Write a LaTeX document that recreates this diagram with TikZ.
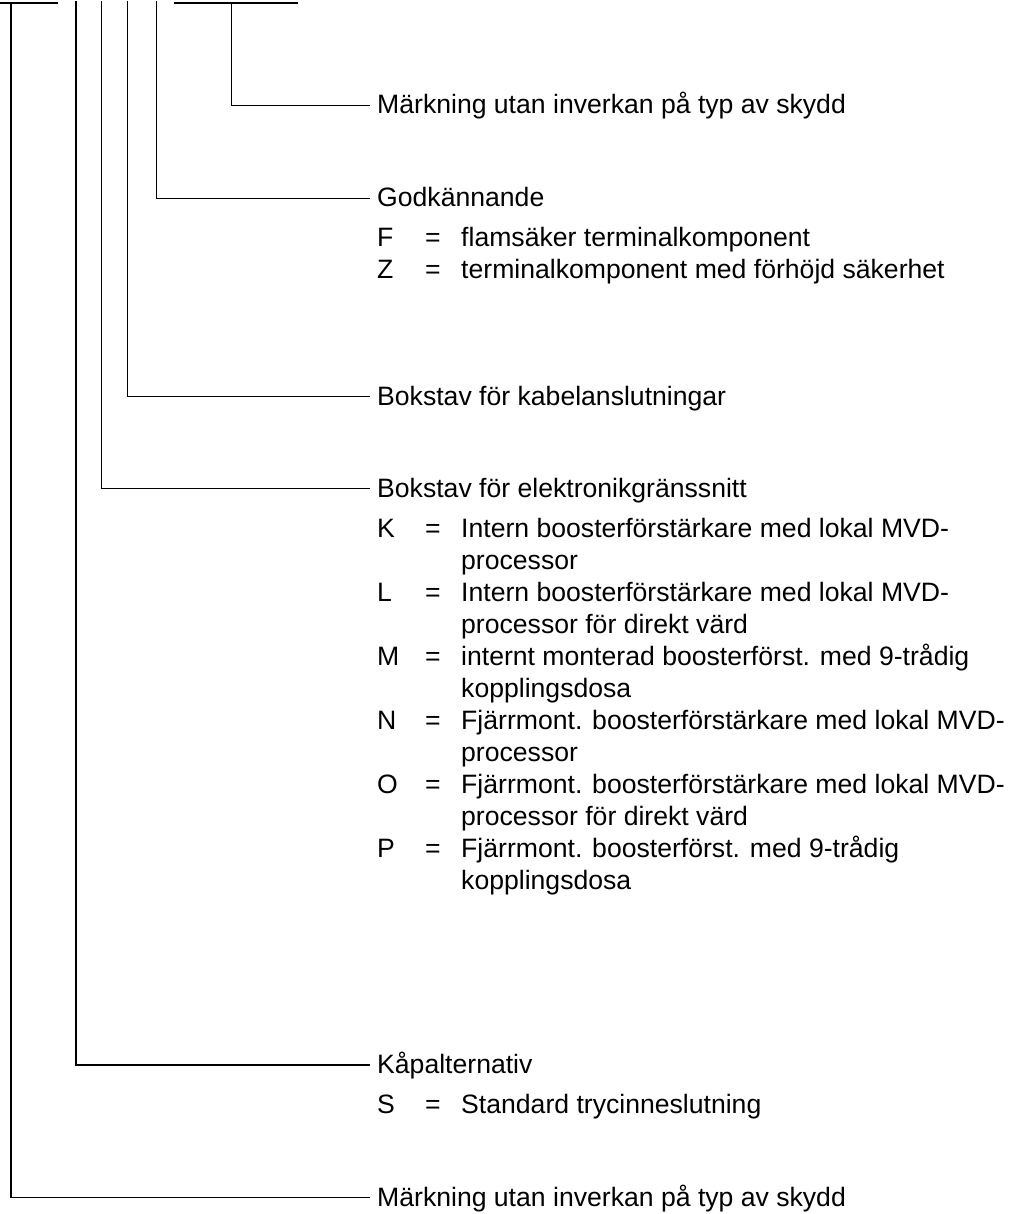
\documentclass[tikz,border=0pt]{standalone}
\usepackage{fontspec}
\setmainfont{Liberation Sans}
\begin{document}
\begin{tikzpicture}[x=1pt,y=-1pt,
  txt/.style={anchor=base west, inner sep=0pt, font=\fontsize{26.6pt}{32pt}\selectfont},
  wire/.style={line width=1.5pt, line cap=butt}]
\useasboundingbox (0,0) rectangle (1016,1214);
% top bars
\coordinate (barL0) at (0,3); \coordinate (barL1) at (58,3);
\coordinate (barR0) at (174,3); \coordinate (barR1) at (298,3);
\draw[wire] (barL0) -- (barL1);
\draw[wire] (barR0) -- (barR1);
% tops of the verticals
\coordinate (t6) at (11,3);
\coordinate (t5) at (76,1);
\coordinate (t4) at (101.7,1);
\coordinate (t3) at (127.7,1);
\coordinate (t2) at (156.3,1);
\coordinate (t1) at (231.7,3);
% headings
\node[txt] (h1) at (377,114) {Märkning utan inverkan på typ av skydd};
\node[txt] (h2) at (377,207) {Godkännande};
\node[txt] (h3) at (377,405) {Bokstav för kabelanslutningar};
\node[txt] (h4) at (377,497) {Bokstav för elektronikgränssnitt};
\node[txt] (h5) at (377,1073.5) {Kåpalternativ};
\node[txt] (h6) at (377,1206) {Märkning utan inverkan på typ av skydd};
% connectors
\foreach \i in {1,...,6}{
  \draw[wire] (t\i) |- ([shift={(-7pt,8.5pt)}]h\i.base west);
}
% Godkännande items
\node[txt] (gF) at (377,247) {F};
\node[txt] (gFe) at (425,247) {=};
\node[txt] (gFd) at (461,247) {flamsäker terminalkomponent};
\node[txt] (gZ) at (377,279) {Z};
\node[txt] (gZe) at (425,279) {=};
\node[txt] (gZd) at (461,279) {terminalkomponent med förhöjd säkerhet};
% Elektronik items
\node[txt] (eK) at (377,537) {K};
\node[txt] (eKe) at (425,537) {=};
\node[txt] (eKd) at (461,537) {Intern boosterförstärkare med lokal MVD-};
\node[txt] (eKd2) at (461,569) {processor};
\node[txt] (eL) at (377,601) {L};
\node[txt] (eLe) at (425,601) {=};
\node[txt] (eLd) at (461,601) {Intern boosterförstärkare med lokal MVD-};
\node[txt] (eLd2) at (461,633) {processor för direkt värd};
\node[txt] (eM) at (377,665) {M};
\node[txt] (eMe) at (425,665) {=};
\node[txt] (eMd) at (461,665) {internt monterad boosterförst. med 9-trådig};
\node[txt] (eMd2) at (461,697) {kopplingsdosa};
\node[txt] (eN) at (377,729) {N};
\node[txt] (eNe) at (425,729) {=};
\node[txt] (eNd) at (461,729) {Fjärrmont. boosterförstärkare med lokal MVD-};
\node[txt] (eNd2) at (461,761) {processor};
\node[txt] (eO) at (377,793) {O};
\node[txt] (eOe) at (425,793) {=};
\node[txt] (eOd) at (461,793) {Fjärrmont. boosterförstärkare med lokal MVD-};
\node[txt] (eOd2) at (461,825) {processor för direkt värd};
\node[txt] (eP) at (377,857) {P};
\node[txt] (ePe) at (425,857) {=};
\node[txt] (ePd) at (461,857) {Fjärrmont. boosterförst. med 9-trådig};
\node[txt] (ePd2) at (461,889) {kopplingsdosa};
% Kåpalternativ item
\node[txt] (kS) at (377,1113.5) {S};
\node[txt] (kSe) at (425,1113.5) {=};
\node[txt] (kSd) at (461,1113.5) {Standard trycinneslutning};
\end{tikzpicture}
\end{document}
